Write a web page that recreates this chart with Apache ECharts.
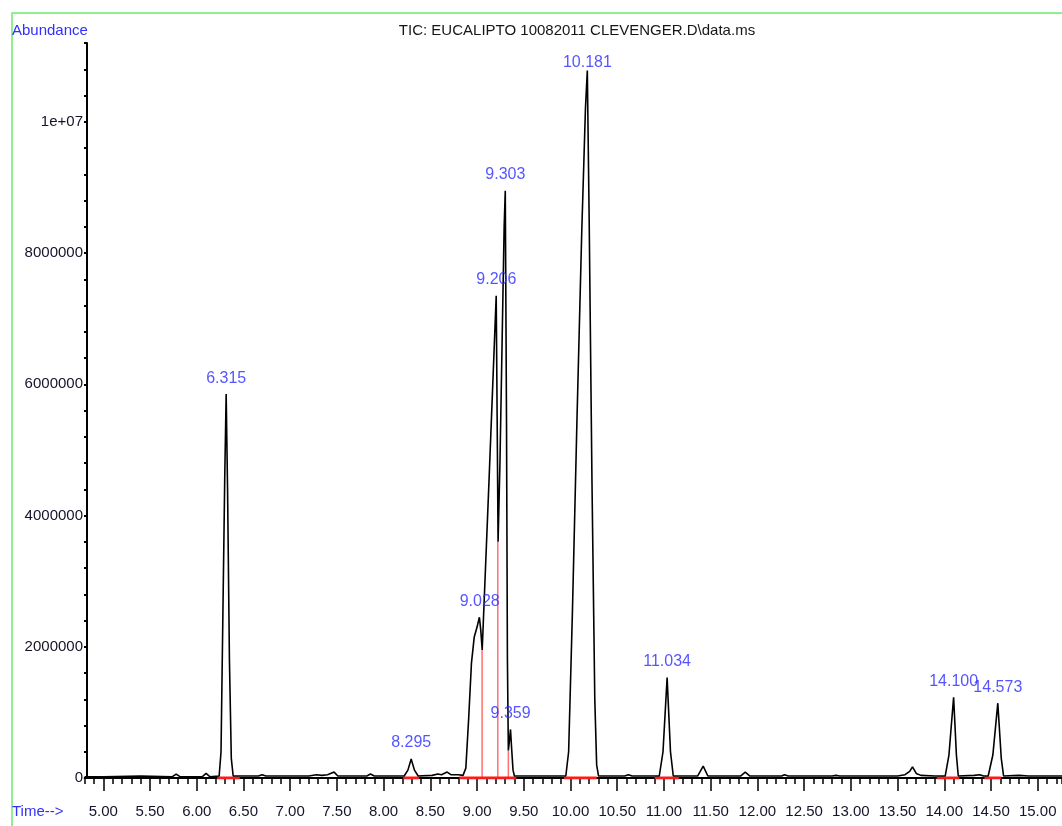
<!DOCTYPE html>
<html>
<head>
<meta charset="utf-8">
<script src="https://cdn.jsdelivr.net/npm/echarts@6/dist/echarts.min.js"></script>
<style>
html,body{margin:0;padding:0;background:#fff;}
#c{width:1062px;height:826px;}
</style>
</head>
<body>
<div id="c"></div>
<script>
// ---------------- data ----------------
const titleText = 'TIC: EUCALIPTO 10082011 CLEVENGER.D\\data.ms';
const yAxisName = 'Abundance';
const xAxisName = 'Time-->';

// retention time (min)
const times = [
  4.80, 5.00, 5.40, 5.74, 5.78, 5.82, 6.06, 6.10, 6.14,
  6.24, 6.26, 6.28, 6.30, 6.315, 6.33, 6.35, 6.37, 6.39,
  6.66, 6.70, 6.74, 7.20, 7.28, 7.34, 7.40, 7.47, 7.51,
  7.82, 7.86, 7.90, 8.22, 8.26, 8.295, 8.33, 8.37,
  8.52, 8.58, 8.62, 8.68, 8.72, 8.80, 8.85,
  8.88, 8.91, 8.94, 8.97, 9.00, 9.025, 9.04, 9.055,
  9.13, 9.205, 9.215, 9.225, 9.245, 9.27, 9.29, 9.302,
  9.315, 9.325, 9.335, 9.345, 9.358, 9.37, 9.385, 9.40,
  9.70, 9.95, 9.98, 10.02, 10.07, 10.12, 10.16, 10.18,
  10.20, 10.23, 10.26, 10.28, 10.30,
  10.58, 10.62, 10.66, 10.95, 10.99, 11.034, 11.07, 11.10,
  11.36, 11.42, 11.47, 11.82, 11.87, 11.92,
  12.26, 12.29, 12.33, 12.80, 12.84, 12.88,
  13.50, 13.58, 13.63, 13.66, 13.70, 13.75, 13.90,
  14.01, 14.05, 14.10, 14.13, 14.15,
  14.32, 14.38, 14.42, 14.47, 14.52, 14.573, 14.61, 14.635,
  14.80, 14.90, 15.26
];
// abundance in millions of counts
const abundanceMillions = [
  0.02, 0.02, 0.03, 0.02, 0.06, 0.02, 0.02, 0.07, 0.02,
  0.03, 0.40, 2.50, 4.60, 5.85, 4.40, 1.80, 0.30, 0.03,
  0.03, 0.05, 0.03, 0.03, 0.05, 0.04, 0.05, 0.09, 0.03,
  0.03, 0.06, 0.03, 0.03, 0.12, 0.29, 0.12, 0.03,
  0.04, 0.06, 0.05, 0.09, 0.05, 0.05, 0.04,
  0.15, 0.90, 1.75, 2.15, 2.30, 2.45, 2.25, 1.95,
  4.60, 7.35, 5.50, 3.60, 4.80, 6.80, 8.40, 8.95,
  5.50, 1.80, 0.42, 0.55, 0.74, 0.45, 0.12, 0.03,
  0.03, 0.03, 0.40, 2.50, 5.50, 8.30, 10.20, 10.78,
  8.50, 4.50, 1.20, 0.20, 0.03,
  0.03, 0.05, 0.03, 0.03, 0.40, 1.53, 0.40, 0.03,
  0.03, 0.18, 0.03, 0.03, 0.09, 0.03,
  0.03, 0.05, 0.03, 0.03, 0.04, 0.03,
  0.03, 0.05, 0.10, 0.17, 0.07, 0.04, 0.03,
  0.03, 0.35, 1.23, 0.35, 0.03,
  0.04, 0.05, 0.03, 0.03, 0.35, 1.14, 0.30, 0.03,
  0.04, 0.03, 0.03
];

// labelled peaks
const peakTimes = [6.315, 8.295, 9.028, 9.206, 9.303, 9.359, 10.181, 11.034, 14.100, 14.573];
const peakHeightsMillions = [5.85, 0.29, 2.45, 7.35, 8.95, 0.74, 10.78, 1.53, 1.23, 1.14];
const peakLabels = ['6.315', '8.295', '9.028', '9.206', '9.303', '9.359', '10.181', '11.034', '14.100', '14.573'];

// integration baselines (start, end) and drop lines (time, height in millions)
const baselineStarts = [6.22, 8.21, 8.81, 9.93, 10.90, 13.92, 14.43];
const baselineEnds   = [6.46, 8.38, 9.42, 10.28, 11.16, 14.16, 14.61];
const dropTimes = [9.054, 9.222, 9.335];
const dropHeightsMillions = [1.95, 3.6, 0.42];

// axis ticks
const yTickValues = [0, 2000000, 4000000, 6000000, 8000000, 10000000];
const yTickLabels = ['0', '2000000', '4000000', '6000000', '8000000', '1e+07'];

// ---------------- layout / style ----------------
const FONT = "'Liberation Sans', Arial, sans-serif";
const X_MIN = 4.8, X_MAX = 15.26, X_MAJOR_MIN = 5.0;
const Y_MIN = 0, Y_MAX = 11200000;
const GRID_LEFT = 84.6, GRID_TOP = 43, GRID_BOTTOM = 48, CHART_W = 1062;
const gridW = CHART_W - GRID_LEFT;
const grid2Left = GRID_LEFT + (X_MAJOR_MIN - X_MIN) * gridW / (X_MAX - X_MIN);
const M = 1e6;

const trace = times.map((t, i) => [t, abundanceMillions[i] * M]);

const redSeries = [];
baselineStarts.forEach((s, i) => {
  redSeries.push({
    type: 'line', xAxisIndex: 0, yAxisIndex: 0, silent: true, symbol: 'none', z: 3,
    data: [[s, 0], [baselineEnds[i], 0]],
    lineStyle: { color: '#ff1a1a', width: 3 }
  });
});
dropTimes.forEach((t, i) => {
  redSeries.push({
    type: 'line', xAxisIndex: 0, yAxisIndex: 0, silent: true, symbol: 'none', z: 2,
    data: [[t, 0], [t, dropHeightsMillions[i] * M]],
    lineStyle: { color: '#ff7070', width: 1.5 }
  });
});

const labelDistance = { '10.181': 0 };
const peakData = peakTimes.map((t, i) => ({
  value: [t, peakHeightsMillions[i] * M],
  label: { distance: labelDistance[peakLabels[i]] !== undefined ? labelDistance[peakLabels[i]] : 8 },
  name: peakLabels[i]
}));

const chart = echarts.init(document.getElementById('c'), null, { renderer: 'canvas' });
chart.setOption({
  animation: false,
  backgroundColor: '#ffffff',
  textStyle: { fontFamily: FONT },
  grid: [
    { left: GRID_LEFT, right: 0, top: GRID_TOP, bottom: GRID_BOTTOM, containLabel: false },
    { left: grid2Left, right: 0, top: GRID_TOP, bottom: GRID_BOTTOM, containLabel: false }
  ],
  xAxis: [
    {
      type: 'value', gridIndex: 0, min: X_MIN, max: X_MAX, interval: 0.1,
      axisLine: { show: true, onZero: false, lineStyle: { color: '#000', width: 2 } },
      axisTick: { show: true, length: 6, lineStyle: { color: '#000', width: 1.5 } },
      axisLabel: { show: false },
      splitLine: { show: false }
    },
    {
      type: 'value', gridIndex: 1, min: X_MAJOR_MIN, max: X_MAX, interval: 0.5,
      axisLine: { show: false, onZero: false },
      axisTick: { show: true, length: 13, lineStyle: { color: '#000', width: 1.5 } },
      axisLabel: {
        show: true, margin: 26, showMaxLabel: false,
        color: '#14142a', fontSize: 15, fontFamily: FONT,
        formatter: v => v.toFixed(2)
      },
      splitLine: { show: false }
    }
  ],
  yAxis: [
    {
      type: 'value', gridIndex: 0, position: 'left', offset: -2.4, min: Y_MIN, max: Y_MAX, interval: 400000,
      axisLine: { show: true, onZero: false, lineStyle: { color: '#000', width: 2 } },
      axisTick: { show: true, length: 3, lineStyle: { color: '#000', width: 2 } },
      axisLabel: { show: false },
      splitLine: { show: false }
    },
    {
      type: 'value', gridIndex: 0, position: 'left', offset: -2.4, min: Y_MIN, max: Y_MAX, interval: 2000000,
      axisLine: { show: false },
      axisTick: { show: false },
      axisLabel: {
        show: true, margin: 4, showMaxLabel: false,
        color: '#14142a', fontSize: 15, fontFamily: FONT,
        formatter: v => { const k = yTickValues.indexOf(v); return k >= 0 ? yTickLabels[k] : ''; }
      },
      splitLine: { show: false }
    },
    { type: 'value', gridIndex: 1, min: Y_MIN, max: Y_MAX, show: false }
  ],
  series: [
    ...redSeries,
    {
      type: 'line', xAxisIndex: 0, yAxisIndex: 0, data: trace, symbol: 'none', z: 4,
      lineStyle: { color: '#000', width: 1.6 }, silent: true
    },
    {
      type: 'scatter', xAxisIndex: 0, yAxisIndex: 0, data: peakData, symbolSize: 0, z: 5, silent: true,
      label: {
        show: true, position: 'top', color: '#2a2aff', fontSize: 16, fontFamily: FONT,
        formatter: p => p.name
      }
    }
  ],
  graphic: [
    { type: 'rect', z: 100, silent: true, shape: { x: 12, y: 13, width: 1200, height: 1000 },
      style: { fill: 'none', stroke: '#8ef08e', lineWidth: 2 } },
    { type: 'text', z: 100, x: 577, y: 31, silent: true,
      style: { text: titleText, fill: '#161616', font: '15px ' + FONT, textAlign: 'center', textVerticalAlign: 'middle' } },
    { type: 'text', z: 100, x: 12, y: 31, silent: true,
      style: { text: yAxisName, fill: '#3030ff', font: '15px ' + FONT, textAlign: 'left', textVerticalAlign: 'middle' } },
    { type: 'text', z: 100, x: 12, y: 812, silent: true,
      style: { text: xAxisName, fill: '#3030ff', font: '15px ' + FONT, textAlign: 'left', textVerticalAlign: 'middle' } }
  ]
});
</script>
</body>
</html>
